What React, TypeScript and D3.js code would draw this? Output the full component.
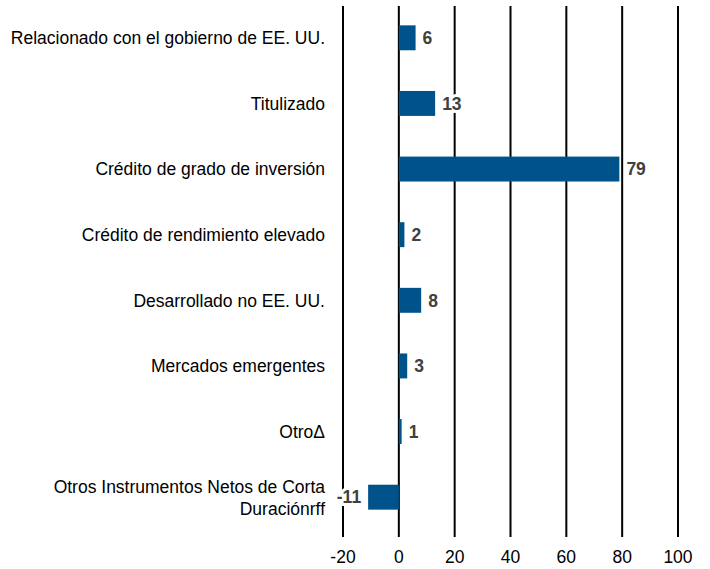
import * as d3 from "d3";
import { useEffect, useRef } from "react";

// categorías y valores
const categories = [
  "Relacionado con el gobierno de EE. UU.",
  "Titulizado",
  "Crédito de grado de inversión",
  "Crédito de rendimiento elevado",
  "Desarrollado no EE. UU.",
  "Mercados emergentes",
  "OtroΔ",
  "Otros Instrumentos Netos de Corta\nDuraciónrff",
];
const values = [6, 13, 79, 2, 8, 3, 1, -11];
const xTicks = [-20, 0, 20, 40, 60, 80, 100];

const W = 710;
const H = 569;
const margin = { top: 6, bottom: 32, left: 343, right: 32 };

export default function App() {
  const ref = useRef<SVGSVGElement>(null);

  useEffect(() => {
    const svg = d3.select(ref.current);
    svg.selectAll("*").remove();

    const x = d3.scaleLinear().domain([-20, 100]).range([margin.left, W - margin.right]);
    const y = d3
      .scaleBand()
      .domain(categories)
      .range([5, 530])
      .paddingInner(0.62)
      .paddingOuter(0.31);

    const font = "'Liberation Sans', Arial, sans-serif";

    // líneas verticales
    svg.append("g")
      .selectAll("line")
      .data(xTicks)
      .enter()
      .append("line")
      .attr("x1", d => x(d))
      .attr("x2", d => x(d))
      .attr("y1", margin.top)
      .attr("y2", H - margin.bottom)
      .attr("stroke", "#000")
      .attr("stroke-width", 2);

    // etiquetas eje x
    svg.append("g")
      .selectAll("text")
      .data(xTicks)
      .enter()
      .append("text")
      .attr("x", d => x(d))
      .attr("y", 563)
      .attr("text-anchor", "middle")
      .style("font-family", font)
      .style("font-size", "17.5px")
      .attr("fill", "#000")
      .text(d => d);

    // barras
    svg.append("g")
      .selectAll("rect")
      .data(values)
      .enter()
      .append("rect")
      .attr("x", d => x(Math.min(0, d)))
      .attr("y", (d, i) => y(categories[i])!)
      .attr("width", d => Math.abs(x(d) - x(0)))
      .attr("height", y.bandwidth())
      .attr("fill", "#00538a");

    // valores
    svg.append("g")
      .selectAll("text")
      .data(values)
      .enter()
      .append("text")
      .attr("x", d => (d >= 0 ? x(d) + 7 : x(d) - 7))
      .attr("y", (d, i) => y(categories[i])! + y.bandwidth() / 2)
      .attr("dy", "0.36em")
      .attr("text-anchor", d => (d >= 0 ? "start" : "end"))
      .style("font-family", font)
      .style("font-size", "17.5px")
      .style("font-weight", "bold")
      .attr("fill", "#404040")
      .attr("stroke", "#fff")
      .attr("stroke-width", 6)
      .attr("paint-order", "stroke")
      .text(d => d);

    // categorías
    const labels = svg.append("g")
      .selectAll("text")
      .data(categories)
      .enter()
      .append("text")
      .attr("x", 325)
      .attr("y", d => y(d)! + y.bandwidth() / 2)
      .attr("text-anchor", "end")
      .style("font-family", font)
      .style("font-size", "17.5px")
      .attr("fill", "#000");

    labels.each(function (d) {
      const lines = d.split("\n");
      const t = d3.select(this);
      lines.forEach((ln, k) => {
        t.append("tspan")
          .attr("x", 325)
          .attr("dy", k === 0 ? `${0.36 - (lines.length - 1) * 0.6}em` : "1.25em")
          .text(ln);
      });
    });
  }, []);

  return (
    <svg
      ref={ref}
      width={W}
      height={H}
      style={{ position: "absolute", left: 0, top: 0, background: "#fff" }}
    />
  );
}
